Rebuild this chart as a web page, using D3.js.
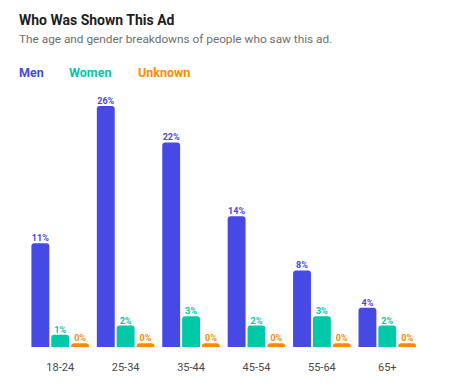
<!DOCTYPE html>
<html>
<head>
<meta charset="utf-8">
<script src="https://cdn.jsdelivr.net/npm/d3@7"></script>
<style>
  body { margin: 0; background: #fff; }
  svg { display: block; font-family: Roboto, "Noto Sans", sans-serif; }
</style>
</head>
<body>
<svg></svg>
<script>
// chart data
const ageGroups = ["18-24", "25-34", "35-44", "45-54", "55-64", "65+"];
const seriesNames = ["Men", "Women", "Unknown"];
const men = [11.1, 25.8, 21.9, 14.0, 8.2, 4.2];
const women = [1.3, 2.3, 3.3, 2.3, 3.3, 2.3];
const unknown = [0.4, 0.4, 0.4, 0.4, 0.4, 0.4];
const seriesColors = ["#4649e3", "#00c8a8", "#ff8a00"];

const width = 470, height = 389;
const svg = d3.select("svg").attr("width", width).attr("height", height);

const series = [men, women, unknown];
const table = ageGroups.map((g, i) => ({
  group: g,
  values: series.map((s, k) => ({ key: seriesNames[k], value: s[i], k: k }))
}));

// header
svg.append("text")
  .attr("x", 19).attr("y", 25)
  .attr("font-size", 14).attr("font-weight", "bold")
  .attr("fill", "#1e1e1e")
  .text("Who Was Shown This Ad");
svg.append("text")
  .attr("x", 19).attr("y", 43)
  .attr("font-size", 11.8)
  .attr("fill", "#6e6e6e")
  .text("The age and gender breakdowns of people who saw this ad.");

// legend
const legendX = [19, 69, 138];
svg.selectAll(".legend").data(seriesNames).enter().append("text")
  .attr("class", "legend")
  .attr("x", (d, i) => legendX[i]).attr("y", 77)
  .attr("font-size", 12.5).attr("font-weight", "bold")
  .attr("fill", (d, i) => seriesColors[i])
  .text(d => d);

const baseY = 347;
let x0 = d3.scaleBand()
  .domain(ageGroups)
  .range([27.5, 420])
  .paddingInner(0.12)
  .paddingOuter(0.06);
let x1 = d3.scaleBand()
  .domain(seriesNames)
  .range([0, x0.bandwidth()])
  .paddingInner(0.1);
let y = d3.scaleLinear()
  .domain([0, d3.max(men)])
  .range([baseY, 106]);

// rounded-top bar path
function barPath(x, yTop, w, h) {
  const r = Math.min(3, h, w / 2);
  return `M${x},${baseY}V${yTop + r}Q${x},${yTop} ${x + r},${yTop}H${x + w - r}Q${x + w},${yTop} ${x + w},${yTop + r}V${baseY}Z`;
}

let groups = svg.selectAll(".group").data(table).enter().append("g")
  .attr("class", "group")
  .attr("transform", d => `translate(${x0(d.group)},0)`);

groups.selectAll("path").data(d => d.values).enter().append("path")
  .attr("d", d => barPath(x1(d.key), y(d.value), x1.bandwidth(), baseY - y(d.value)))
  .attr("fill", d => seriesColors[d.k]);

groups.selectAll(".val").data(d => d.values).enter().append("text")
  .attr("class", "val")
  .attr("x", d => x1(d.key) + x1.bandwidth() / 2)
  .attr("y", d => y(d.value) - 2)
  .attr("text-anchor", "middle")
  .attr("font-size", 9).attr("font-weight", "bold")
  .attr("fill", d => seriesColors[d.k])
  .text(d => Math.round(d.value) + "%");

// x axis labels
let axisX = d3.axisBottom(x0).tickSize(0).tickPadding(0);
let ax = svg.append("g")
  .attr("transform", `translate(0, 363)`)
  .call(axisX);
ax.select(".domain").remove();
ax.selectAll("text")
  .attr("font-size", 11)
  .attr("font-family", "Roboto, sans-serif")
  .attr("fill", "#4a4a4a");
</script>
</body>
</html>
